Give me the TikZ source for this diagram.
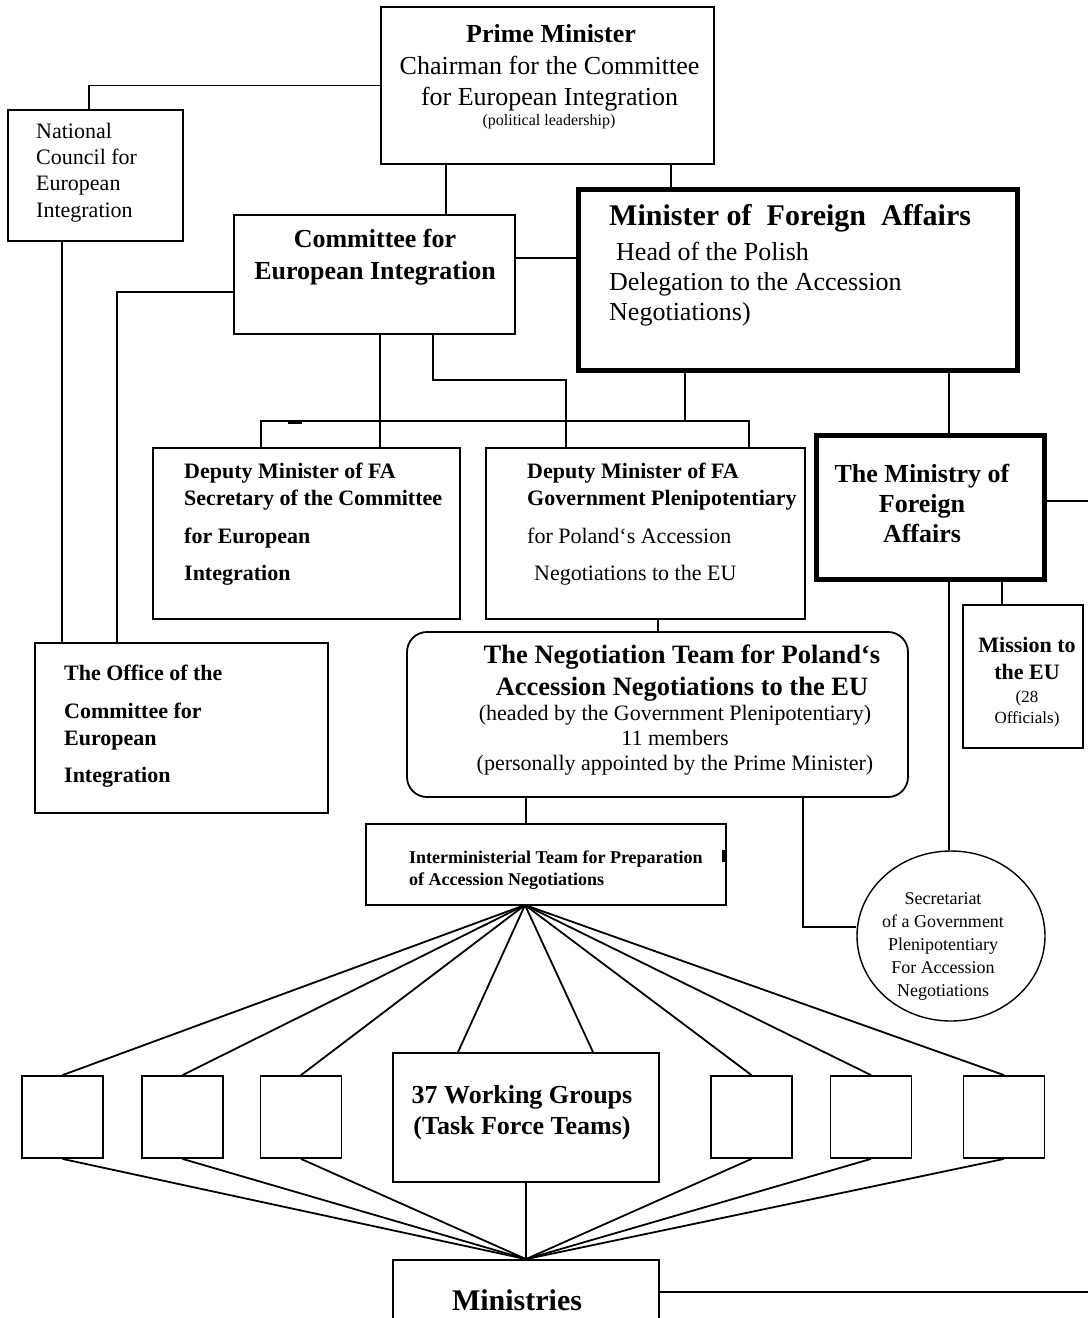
\documentclass[tikz,border=0pt]{standalone}
\usepackage{fontspec}
\setmainfont{Liberation Serif}
\usepackage{tikz}
\usetikzlibrary{shapes.geometric, positioning, calc}

\newcommand{\setfs}[2]{\fontsize{#1}{#2}\selectfont}

\begin{document}
\begin{tikzpicture}[
  x=1pt, y=-1pt,
  box/.style={rectangle, draw, line width=1.8pt, inner sep=0pt},
  heavy/.style={box, line width=5pt},
  small/.style={box, minimum width=81pt, minimum height=82pt},
  txt/.style={inner sep=0pt, anchor=base},
  link/.style={line width=1.8pt},
  thin/.style={line width=1.3pt}
]
\useasboundingbox (0,0) rectangle (1088,1318);
\clip (0,0) rectangle (1088,1318);
\fill[white] (0,0) rectangle (1088,1318);

% boxes
\node[box, minimum width=333pt, minimum height=157pt] (pm) at (547.5,85.5) {};
\node[box, minimum width=175pt, minimum height=131pt] (ncei) at (95.5,175.5) {};
\node[box, minimum width=281pt, minimum height=119pt] (cei) at (374.5,274.5) {};
\node[heavy, minimum width=439pt, minimum height=181pt] (mfa) at (798,280) {};
\node[box, minimum width=307pt, minimum height=171pt] (dma) at (306.5,533.5) {};
\node[box, minimum width=319pt, minimum height=171pt] (dmb) at (645.5,533.5) {};
\node[heavy, minimum width=228pt, minimum height=144pt] (mofa) at (930.5,507.5) {};
\node[box, minimum width=293pt, minimum height=170pt] (office) at (181.5,728) {};
\node[box, minimum width=120pt, minimum height=143pt] (mission) at (1023,676.5) {};
\node[box, rounded corners=20pt, minimum width=501pt, minimum height=165pt] (nt) at (657.5,714.5) {};
\node[box, line width=1.4pt, minimum width=360pt, minimum height=81pt] (im) at (546,864.5) {};
\node[box, ellipse, line width=1.4pt, minimum width=188pt, minimum height=170pt] (sec) at (951,936) {};
\node[box, minimum width=266pt, minimum height=129pt] (wg) at (526,1117.5) {};
\node[small] (b1) at (62.5,1117) {};
\node[small] (b2) at (182.5,1117) {};
\node[small] (b3) at (301,1117) {};
\node[small] (b5) at (751.5,1117) {};
\node[small] (b6) at (871,1117) {};
\node[small] (b7) at (1004,1117) {};
\node[box, minimum width=266pt, minimum height=80pt] (min) at (526,1300) {};

% texts (multi-line ones sit on their last baseline)
\node[txt, font=\bfseries\setfs{26}{31}] (pmhead) at (551,42) {Prime Minister};
\node[txt, align=center, font=\setfs{26}{31}] (pmrole) at (549.5,105) {Chairman for the Committee\\for European Integration};
\node[txt, font=\setfs{16}{20}] (pmnote) at (549,125) {(political leadership)};
\node[txt, anchor=base west, align=left, font=\setfs{22}{26.3}] (nceitxt) at (36,217) {National\\Council for\\European\\Integration};
\node[txt, align=center, font=\bfseries\setfs{26}{32}] (ceitxt) at (375,279) {Committee for\\European Integration};
\node[txt, anchor=base west, font=\bfseries\setfs{30}{34}] (mfahead) at (609,225) {Minister of~ Foreign~ Affairs};
\node[txt, anchor=base west, align=left, font=\setfs{26}{30}] (mfarole) at (609,320) {\hspace*{7pt}Head of the Polish\\Delegation to the Accession\\Negotiations)};
\node[txt, anchor=base west, align=left, font=\bfseries\setfs{22}{27}] (dmatxt) at (184,580) {Deputy Minister of FA\\Secretary of the Committee\\[11pt]for European\\[10pt]Integration};
\node[txt, anchor=base west, align=left, font=\bfseries\setfs{22}{27}] (dmbhead) at (527,505) {Deputy Minister of FA\\Government Plenipotentiary};
\node[txt, anchor=base west, align=left, font=\setfs{22}{27}] (dmbrole) at (527,580) {for Poland‘s Accession\\[10pt]\hspace*{7pt}Negotiations to the EU};
\node[txt, align=center, font=\bfseries\setfs{26}{30}] (mofatxt) at (922,542) {The Ministry of\\Foreign\\Affairs};
\node[txt, anchor=base west, align=left, font=\bfseries\setfs{22}{27}] (officetxt) at (64,782) {The Office of the\\[11pt]Committee for\\European\\[10pt]Integration};
\node[txt, align=center, font=\bfseries\setfs{22}{27}] (missionhead) at (1027,679) {Mission to\\the EU};
\node[txt, align=center, font=\setfs{17}{21}] (missionnote) at (1027,723) {(28\\Officials)};
\node[txt, align=center, font=\bfseries\setfs{26.5}{32}] (nthead) at (682,695) {The Negotiation Team for Poland‘s\\Accession Negotiations to the EU};
\node[txt, align=center, font=\setfs{22}{25}] (ntnote) at (675,770) {(headed by the Government Plenipotentiary)\\11 members\\(personally appointed by the Prime Minister)};
\node[txt, anchor=base west, align=left, font=\bfseries\setfs{18}{22}] (imtxt) at (409,885) {Interministerial Team for Preparation\\of Accession Negotiations};
\node[txt, align=center, font=\setfs{18}{23}] (sectxt) at (943,996) {Secretariat\\of a Government\\Plenipotentiary\\For Accession\\Negotiations};
\node[txt, align=center, font=\bfseries\setfs{26}{31}] (wgtxt) at (522,1134) {37 Working Groups\\(Task Force Teams)};
\node[txt, font=\bfseries\setfs{30}{34}] (mintxt) at (517,1310) {Ministries};

% connectors
\coordinate (fan) at (525,905);
\coordinate (edgeA) at (1088,501);
\coordinate (edgeB) at (1088,1292);
\draw[link] (pm.west) -| ([xshift=-6.5pt]ncei.north);
\draw[link] ([xshift=-101.5pt]pm.south) -- ([xshift=-101.5pt]pm.south |- cei.north);
\draw[link] ([xshift=123.5pt]pm.south) -- ([xshift=123.5pt]pm.south |- mfa.north);
\draw[link] ([yshift=16.5pt]cei.east) -- ([yshift=16.5pt]cei.east -| mfa.west);
\draw[link] ([yshift=-17.5pt]cei.west) -| ([xshift=-64.5pt]office.north);
\draw[link] ([xshift=-33.5pt]ncei.south) -- ([xshift=-33.5pt]ncei.south |- office.north);
\draw[link] ([xshift=5.5pt]cei.south) -- ([xshift=5.5pt]cei.south |- dma.north);
\draw[link] ([xshift=58.5pt]cei.south) |- ([xshift=-79.5pt, yshift=67pt]dmb.north) -- ([xshift=-79.5pt]dmb.north);
\draw[link] ([xshift=-113pt]mfa.south) -- ++(0,49);
\draw[link] ([xshift=-45.5pt]dma.north) -- ++(0,-26) -| ([xshift=103.5pt]dmb.north);
\draw[line width=3pt] (288,422) -- (302,422);
\draw[link] ([xshift=151pt]mfa.south) -- ([xshift=151pt]mfa.south |- mofa.north);
\draw[link] ([yshift=6.5pt]mofa.east) -- (edgeA);
\draw[link] ([xshift=18.5pt]mofa.south) -- ([xshift=18.5pt]mofa.south |- sec.north);
\draw[link] ([xshift=71.5pt]mofa.south) -- ([xshift=71.5pt]mofa.south |- mission.north);
\draw[thin] ([xshift=12.5pt]dmb.south) -- ([xshift=12.5pt]dmb.south |- nt.north);
\draw[thin] ([xshift=-131.5pt]nt.south) -- ([xshift=-131.5pt]nt.south |- im.north);
\draw[link] ([xshift=145.5pt]nt.south) |- ([yshift=9pt]sec.west);
\draw[line width=3pt] (723,850) -- (723,862);
\foreach \b in {b1,b2,b3,b5,b6,b7} {
  \draw[link] (fan) -- (\b.north);
  \draw[link] (\b.south) -- (min.north);
}
\draw[link] (fan) -- ([xshift=-68pt]wg.north);
\draw[link] (fan) -- ([xshift=67pt]wg.north);
\draw[thin] (wg.south) -- (min.north);
\draw[link] ([yshift=8pt]min.east) -- (edgeB);
\end{tikzpicture}
\end{document}
